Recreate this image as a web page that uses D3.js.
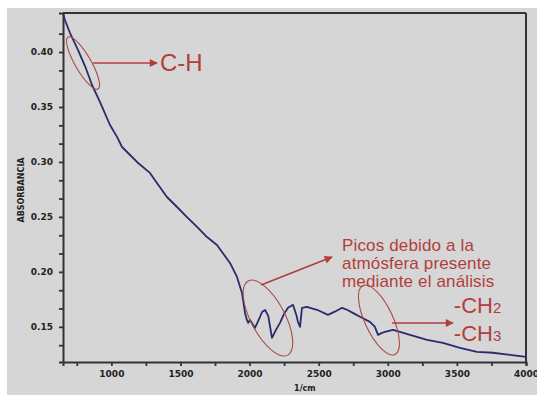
<!DOCTYPE html>
<html>
<head>
<meta charset="utf-8">
<script src="https://cdn.jsdelivr.net/npm/d3@7"></script>
<style>
  html, body { margin: 0; padding: 0; background: #ffffff; }
  svg { display: block; }
</style>
</head>
<body>
<svg id="chart" width="537" height="397"></svg>
<script>
// FTIR spectrum: wavenumber (1/cm) vs absorbance
const wavenumber = [650, 664, 700, 759, 810, 860, 918, 990, 1040, 1077, 1130, 1185, 1279, 1340, 1402, 1475, 1547,
  1620, 1692, 1764, 1858, 1909, 1945, 1967, 1981, 1990, 2003, 2039, 2065, 2090, 2112, 2135, 2162, 2190, 2220,
  2250, 2278, 2314, 2340, 2350, 2365, 2379, 2415, 2450, 2488, 2567, 2620, 2669, 2705, 2750, 2799, 2871, 2907,
  2929, 2950, 2980, 3038, 3100, 3161, 3284, 3399, 3522, 3645, 3761, 3884, 4000];
const absorbance = [0.4355, 0.4291, 0.4175, 0.4018, 0.3870, 0.3700, 0.3545, 0.3336, 0.3230, 0.3136, 0.3070, 0.3000,
  0.2900, 0.2790, 0.2681, 0.2590, 0.2499, 0.2410, 0.2317, 0.2245, 0.2081, 0.1954, 0.1808, 0.1626, 0.1560, 0.1536,
  0.1563, 0.1490, 0.1560, 0.1635, 0.1654, 0.1600, 0.1399, 0.1470, 0.1536, 0.1620, 0.1673, 0.1700, 0.1600, 0.1545,
  0.1500, 0.1673, 0.1682, 0.1668, 0.1655, 0.1609, 0.1640, 0.1673, 0.1655, 0.1625, 0.1591, 0.1545, 0.1500, 0.1427,
  0.1440, 0.1455, 0.1473, 0.1450, 0.1427, 0.1382, 0.1355, 0.1309, 0.1273, 0.1264, 0.1245, 0.1227];

const xMajorTicks = [1000, 1500, 2000, 2500, 3000, 3500, 4000];
const xMinorTicks = [750, 1250, 1750, 2250, 2750, 3250, 3750];
const yMajorTicks = [0.15, 0.20, 0.25, 0.30, 0.35, 0.40];
const yMinorTicks = [0.1333, 0.1667, 0.1833, 0.2167, 0.2333, 0.2667, 0.2833, 0.3167, 0.3333, 0.3667, 0.3833, 0.4167];

const xTitle = "1/cm";
const yTitle = "ABSORBANCIA";

const svg = d3.select("#chart");
const W = 537, H = 397;
const margin = { left: 63, top: 13, right: 11, bottom: 35 };
const iw = W - margin.left - margin.right;
const ih = H - margin.top - margin.bottom;

const red = "#b23e3c";
const axisColor = "#333333";
const lineColor = "#2c2a6e";

// grey panel behind the plot
svg.append("rect").attr("x", 7).attr("y", 8).attr("width", W - 7).attr("height", 387).attr("fill", "#d6d6d6");

const x = d3.scaleLinear().domain([650, 4000]).range([margin.left, margin.left + iw]);
const y = d3.scaleLinear().domain([0.118, 0.4355]).range([margin.top + ih, margin.top]);

const tickFont = "DejaVu Sans, sans-serif";

// x axis: major ticks with labels, minor ticks without
const gx = svg.append("g").attr("transform", `translate(0,${margin.top + ih})`);
gx.call(d3.axisBottom(x).tickValues(xMajorTicks).tickSize(4).tickPadding(5).tickFormat(d3.format("d")));
const gxm = svg.append("g").attr("transform", `translate(0,${margin.top + ih})`);
gxm.call(d3.axisBottom(x).tickValues(xMinorTicks).tickSize(4).tickFormat(""));
gxm.select(".domain").remove();

const gy = svg.append("g").attr("transform", `translate(${margin.left},0)`);
gy.call(d3.axisLeft(y).tickValues(yMajorTicks).tickSize(4).tickPadding(6).tickFormat(d3.format(".2f")));
const gym = svg.append("g").attr("transform", `translate(${margin.left},0)`);
gym.call(d3.axisLeft(y).tickValues(yMinorTicks).tickSize(4).tickFormat(""));
gym.select(".domain").remove();

svg.selectAll(".domain").attr("stroke", axisColor).attr("stroke-width", 2);
svg.selectAll(".tick line").attr("stroke", axisColor).attr("stroke-width", 1.8);
svg.selectAll(".tick text")
  .attr("fill", "#222222")
  .style("font-family", tickFont)
  .style("font-weight", "bold")
  .style("font-size", "9px");

// box: top and right edges
svg.append("line").attr("x1", margin.left).attr("x2", margin.left + iw)
  .attr("y1", margin.top).attr("y2", margin.top).attr("stroke", axisColor).attr("stroke-width", 2);
svg.append("line").attr("x1", margin.left + iw).attr("x2", margin.left + iw)
  .attr("y1", margin.top).attr("y2", margin.top + ih).attr("stroke", axisColor).attr("stroke-width", 2);

// axis titles
svg.append("text").attr("x", x(2400)).attr("y", 391).attr("text-anchor", "middle")
  .style("font-family", tickFont).style("font-weight", "bold").style("font-size", "8px")
  .attr("fill", "#222222").text(xTitle);
svg.append("text").attr("transform", `translate(24,${y(0.2745)}) rotate(-90)`).attr("text-anchor", "middle")
  .style("font-family", tickFont).style("font-weight", "bold").style("font-size", "8px")
  .attr("fill", "#222222").text(yTitle);

// spectrum line
const spectrum = wavenumber.map((w, i) => ({ w, a: absorbance[i] }));
svg.append("path").datum(spectrum)
  .attr("fill", "none").attr("stroke", lineColor).attr("stroke-width", 1.8)
  .attr("stroke-linejoin", "round")
  .attr("d", d3.line().x(d => x(d.w)).y(d => y(d.a)));

// annotations
const defs = svg.append("defs");
defs.append("marker").attr("id", "head").attr("viewBox", "0 0 10 10")
  .attr("refX", 9).attr("refY", 5).attr("markerWidth", 10).attr("markerHeight", 8)
  .attr("markerUnits", "userSpaceOnUse").attr("orient", "auto")
  .append("path").attr("d", "M0,0 L10,5 L0,10 Z").attr("fill", red);

const annoFont = "Liberation Sans, Arial, sans-serif";

function ring(w, a, rx, ry, angle) {
  svg.append("ellipse")
    .attr("transform", `translate(${x(w)},${y(a)}) rotate(${angle})`)
    .attr("rx", rx).attr("ry", ry)
    .attr("fill", "none").attr("stroke", "#a84a48").attr("stroke-width", 1.1);
}
function arrow(w1, a1, w2, a2) {
  svg.append("line")
    .attr("x1", x(w1)).attr("y1", y(a1)).attr("x2", x(w2)).attr("y2", y(a2))
    .attr("stroke", red).attr("stroke-width", 1.6).attr("marker-end", "url(#head)");
}

// C-H band near 800 1/cm
ring(795, 0.390, 30, 8, 60);
arrow(868, 0.390, 1330, 0.390);
svg.append("text").attr("x", x(1352)).attr("y", y(0.3827))
  .style("font-family", annoFont).style("font-size", "24px").attr("fill", red).text("C-H");

// atmospheric peaks around 2000-2400 1/cm
ring(2133, 0.1580, 42, 17, 62);
arrow(2083, 0.1881, 2596, 0.2135);
const note = ["Picos debido a la", "atmósfera presente", "mediante el análisis"];
const noteY = [0.2191, 0.2023, 0.1859];
note.forEach((t, i) => {
  svg.append("text").attr("x", x(2669)).attr("y", y(noteY[i]))
    .style("font-family", annoFont).style("font-size", "17px").style("letter-spacing", "0.15px")
    .attr("fill", red).text(t);
});

// -CH2 / -CH3 bands near 2930 1/cm
ring(2936, 0.1562, 38, 14, 65);
arrow(3031, 0.1535, 3472, 0.1535);
[["-CH", "2", 0.1626], ["-CH", "3", 0.1372]].forEach(([base, sub, a]) => {
  const t = svg.append("text").attr("x", x(3478)).attr("y", y(a))
    .style("font-family", annoFont).style("font-size", "22px").attr("fill", red);
  t.append("tspan").text(base);
  t.append("tspan").style("font-size", "15px").text(sub);
});
</script>
</body>
</html>
